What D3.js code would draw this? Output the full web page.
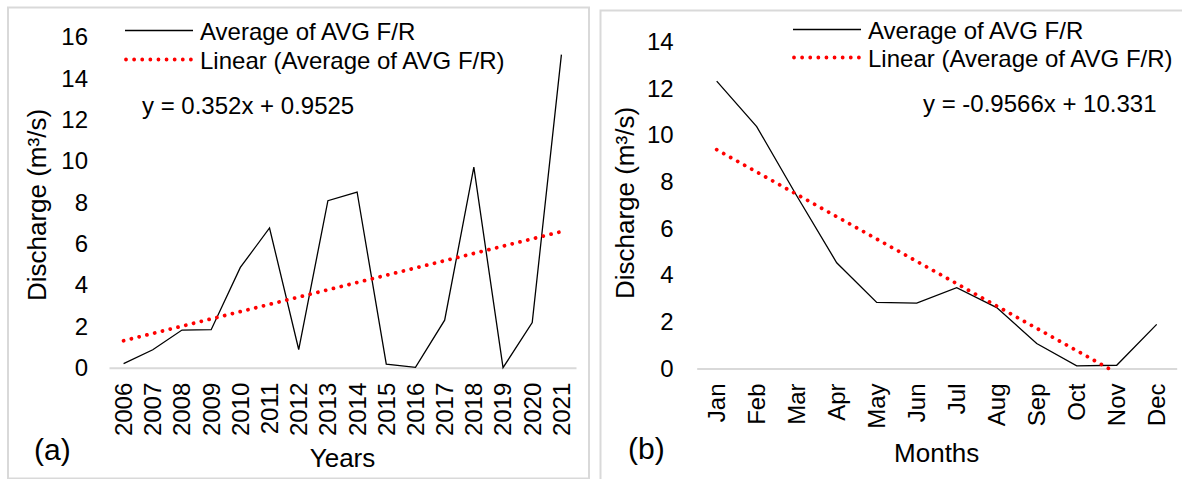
<!DOCTYPE html>
<html>
<head>
<meta charset="utf-8">
<script src="https://cdn.jsdelivr.net/npm/d3@7"></script>
<style>
  body { margin: 0; background: #fff; }
  svg text { font-family: Arial, "Liberation Sans", sans-serif; fill: #000; }
</style>
</head>
<body>
<div id="chart"></div>
<script>
// panel (a) - yearly averages
const years = ["2006","2007","2008","2009","2010","2011","2012","2013","2014","2015","2016","2017","2018","2019","2020","2021"]
const yearValues = [0.2, 0.87, 1.82, 1.84, 4.85, 6.76, 0.88, 8.08, 8.5, 0.17, 0.02, 2.3, 9.7, 0, 2.18, 15.15]
const yearTicks = [0, 2, 4, 6, 8, 10, 12, 14, 16]
const yearTrend = { slope: 0.352, intercept: 0.9525 }

// panel (b) - monthly averages
const months = ["Jan","Feb","Mar","Apr","May","Jun","Jul","Aug","Sep","Oct","Nov","Dec"]
const monthValues = [12.31, 10.36, 7.4, 4.53, 2.83, 2.8, 3.46, 2.61, 1.07, 0.11, 0.14, 1.89]
const monthTicks = [0, 2, 4, 6, 8, 10, 12, 14]
const monthTrend = { slope: -0.9566, intercept: 10.331 }

const legendLabels = ["Average of AVG F/R", "Linear (Average of AVG F/R)"]

const width = 1182
const height = 479

const svg = d3.select("#chart")
  .append("svg")
    .attr("width", width)
    .attr("height", height)

// panel borders
svg.append("rect")
    .attr("x", 8).attr("y", 7.5)
    .attr("width", 581).attr("height", 471)
    .attr("fill", "none").attr("stroke", "#d9d9d9").attr("stroke-width", 2)
svg.append("rect")
    .attr("x", 600.5).attr("y", 10.5)
    .attr("width", 620).attr("height", 520)
    .attr("fill", "none").attr("stroke", "#d9d9d9").attr("stroke-width", 2)

function drawPanel(cfg) {
  const g = svg.append("g")

  const x = d3.scaleBand()
      .domain(cfg.cats)
      .range([cfg.left, cfg.right])
      .padding(0)
  const y = d3.scaleLinear()
      .domain([0, cfg.ymax])
      .range([cfg.bottom, cfg.top])
  const cx = d => x(d) + x.bandwidth() / 2

  // y axis labels only
  const yAxis = g.append("g")
      .attr("transform", `translate(${cfg.left},0)`)
      .call(d3.axisLeft(y).tickValues(cfg.ticks).tickSize(0).tickPadding(cfg.yPad))
  yAxis.select(".domain").remove()
  yAxis.selectAll("text").style("font-size", "24px")

  // x axis, domain = grey zero line
  const xAxis = g.append("g")
      .attr("transform", `translate(0,${cfg.bottom})`)
      .call(d3.axisBottom(x).tickSize(0).tickSizeOuter(0))
  xAxis.select(".domain").attr("stroke", "#d9d9d9").attr("stroke-width", 2)
  xAxis.selectAll("text")
      .style("font-size", "24px")
      .style("text-anchor", "end")
      .attr("x", -15)
      .attr("y", 0)
      .attr("dy", "0.35em")
      .attr("transform", "rotate(-90)")

  // data line
  const line = d3.line()
      .x((d, i) => cx(cfg.cats[i]))
      .y(d => y(d))
  g.append("path")
      .datum(cfg.values)
      .attr("fill", "none")
      .attr("stroke", "#000")
      .attr("stroke-width", 1.3)
      .attr("d", line)

  // linear trend, clipped at zero like excel
  const n = cfg.cats.length
  const tr = cfg.trend
  let xEnd = n
  if (tr.intercept + tr.slope * n < 0) xEnd = -tr.intercept / tr.slope
  const idxScale = d3.scaleLinear().domain([1, n]).range([cx(cfg.cats[0]), cx(cfg.cats[n - 1])])
  g.append("line")
      .attr("x1", idxScale(1))
      .attr("y1", y(tr.intercept + tr.slope))
      .attr("x2", idxScale(xEnd))
      .attr("y2", y(Math.max(0, tr.intercept + tr.slope * xEnd)))
      .attr("stroke", "#ff0000")
      .attr("stroke-width", 3.8)
      .attr("stroke-linecap", "round")
      .attr("stroke-dasharray", "0.01 8")

  // legend
  const lg = g.append("g").attr("transform", `translate(${cfg.legX},${cfg.legY})`)
  lg.append("line")
      .attr("x1", 0).attr("x2", 68).attr("y1", 0).attr("y2", 0)
      .attr("stroke", "#000").attr("stroke-width", 1.3)
  lg.append("line")
      .attr("x1", 1).attr("x2", 66).attr("y1", cfg.legGap).attr("y2", cfg.legGap)
      .attr("stroke", "#ff0000").attr("stroke-width", 3.8)
      .attr("stroke-linecap", "round").attr("stroke-dasharray", "0.01 8.1")
  lg.selectAll("text.leg")
    .data(legendLabels)
    .join("text")
      .attr("class", "leg")
      .attr("x", 75)
      .attr("y", (d, i) => i * cfg.legGap + 9)
      .style("font-size", "24px")
      .text(d => d)

  // equation
  g.append("text")
      .attr("x", cfg.eqX).attr("y", cfg.eqY)
      .style("font-size", "24px")
      .text(cfg.eq)

  // axis titles
  g.append("text")
      .attr("transform", `translate(${cfg.yTitleX},${cfg.yTitleY}) rotate(-90)`)
      .style("font-size", "26px")
      .style("text-anchor", "middle")
      .text("Discharge (m³/s)")
  g.append("text")
      .attr("x", (cfg.left + cfg.right) / 2)
      .attr("y", cfg.xTitleY)
      .style("font-size", "26px")
      .style("text-anchor", "middle")
      .text(cfg.xTitle)

  // panel letter
  g.append("text")
      .attr("x", cfg.tagX).attr("y", cfg.tagY)
      .style("font-size", "30px")
      .text(cfg.tag)
}

drawPanel({
  cats: years, values: yearValues, ticks: yearTicks, ymax: 16, trend: yearTrend,
  left: 109, right: 576, top: 37, bottom: 367.7, yPad: 21,
  legX: 125, legY: 30.5, legGap: 29,
  eq: "y = 0.352x + 0.9525", eqX: 142, eqY: 114,
  yTitleX: 46, yTitleY: 205, xTitle: "Years", xTitleY: 467,
  tag: "(a)", tagX: 34, tagY: 460
})

drawPanel({
  cats: months, values: monthValues, ticks: monthTicks, ymax: 14, trend: monthTrend,
  left: 696.7, right: 1176.7, top: 41.7, bottom: 368.5, yPad: 23,
  legX: 793, legY: 29.5, legGap: 28,
  eq: "y = -0.9566x + 10.331", eqX: 923, eqY: 112,
  yTitleX: 634, yTitleY: 203, xTitle: "Months", xTitleY: 462,
  tag: "(b)", tagX: 628, tagY: 459
})
</script>
</body>
</html>
